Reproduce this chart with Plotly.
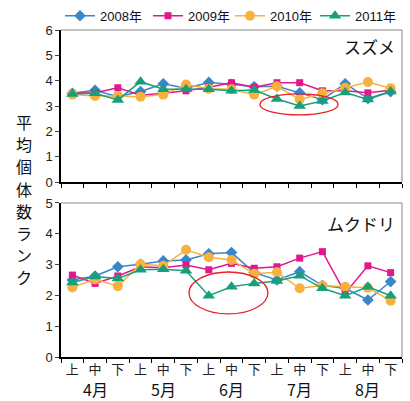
import plotly.graph_objects as go

periods = ["上", "中", "下"] * 5
months = ["4月", "5月", "6月", "7月", "8月"]
years = ["2008年", "2009年", "2010年", "2011年"]
ytitle = "平均個体数ランク"

suzume = {
    "2008年": [3.50, 3.62, 3.37, 3.57, 3.88, 3.70, 3.93, 3.86, 3.76, 3.78, 3.52, 3.25, 3.88, 3.30, 3.57],
    "2009年": [3.50, 3.52, 3.72, 3.43, 3.50, 3.60, 3.74, 3.92, 3.74, 3.92, 3.92, 3.60, 3.60, 3.52, 3.62],
    "2010年": [3.45, 3.40, 3.40, 3.37, 3.45, 3.85, 3.68, 3.66, 3.45, 3.78, 3.26, 3.50, 3.72, 3.95, 3.70],
    "2011年": [3.47, 3.50, 3.24, 3.96, 3.66, 3.66, 3.66, 3.60, 3.63, 3.28, 3.00, 3.20, 3.53, 3.26, 3.57],
}
mukudori = {
    "2008年": [2.50, 2.63, 2.93, 3.01, 3.12, 3.15, 3.35, 3.39, 2.74, 2.50, 2.77, 2.32, 2.23, 1.85, 2.45],
    "2009年": [2.66, 2.39, 2.63, 2.93, 2.90, 2.99, 2.83, 3.04, 2.88, 2.93, 3.21, 3.42, 2.07, 2.96, 2.74],
    "2010年": [2.26, 2.52, 2.30, 3.01, 2.96, 3.48, 3.24, 3.15, 2.70, 2.75, 2.23, 2.32, 2.28, 2.25, 1.83],
    "2011年": [2.42, 2.61, 2.55, 2.83, 2.85, 2.80, 1.99, 2.28, 2.39, 2.47, 2.64, 2.23, 1.99, 2.28, 1.99],
}

colors = {"2008年": "#3a86c8", "2009年": "#e2178b", "2010年": "#f7b13c", "2011年": "#16a07a"}
symbols = {"2008年": "diamond", "2009年": "square", "2010年": "circle", "2011年": "triangle-up"}
msizes = {"2008年": 9, "2009年": 7, "2010年": 10, "2011年": 11}
legend_ids = {"2008年": "legend", "2009年": "legend2", "2010年": "legend3", "2011年": "legend4"}
legend_px = {"2008年": 60, "2009年": 148, "2010年": 230, "2011年": 315}

xs = list(range(len(periods)))
fig = go.Figure()
for y in years:
    fig.add_trace(go.Scatter(x=xs, y=suzume[y], mode="lines+markers", name=y, legend=legend_ids[y],
                             line=dict(color=colors[y], width=1.5),
                             marker=dict(symbol=symbols[y], size=msizes[y], color=colors[y]),
                             xaxis="x", yaxis="y"))
for y in years:
    fig.add_trace(go.Scatter(x=xs, y=mukudori[y], mode="lines+markers", name=y, showlegend=False,
                             line=dict(color=colors[y], width=1.5),
                             marker=dict(symbol=symbols[y], size=msizes[y], color=colors[y]),
                             xaxis="x2", yaxis="y2"))

tickfont = dict(family="Liberation Sans, Arial", size=13, color="#222")
bounds = [i - 0.5 for i in range(len(periods) + 1)]
common_x = dict(range=[-0.5, len(periods) - 0.5], showgrid=False, zeroline=False,
                showline=True, linecolor="black", linewidth=1.5, ticks="",
                tickvals=xs, minor=dict(tickvals=bounds, ticks="outside", ticklen=4, tickcolor="black"))
fig.update_layout(
    width=410, height=401,
    margin=dict(l=61, r=8, t=30, b=44, autoexpand=False),
    plot_bgcolor="white", paper_bgcolor="white",
    font=dict(family="Noto Sans CJK JP, Liberation Sans", color="#111"),
    xaxis=dict(**common_x, domain=[0, 1], anchor="y", showticklabels=False),
    yaxis=dict(range=[0, 6], dtick=1, domain=[0.535, 1], showgrid=False, zeroline=False,
               showline=True, linecolor="black", linewidth=1.5, ticks="outside", ticklen=4,
               tickfont=tickfont),
    xaxis2=dict(**common_x, domain=[0, 1], anchor="y2", ticktext=periods,
                tickfont=dict(family="Noto Sans CJK JP", size=13, color="#222")),
    yaxis2=dict(range=[0, 5], dtick=1, domain=[0, 0.471], showgrid=False, zeroline=False,
                showline=True, linecolor="black", linewidth=1.5, ticks="outside", ticklen=4,
                tickfont=tickfont),
    showlegend=True,
)
for y in years:
    fig.update_layout({legend_ids[y]: dict(
        orientation="h", x=legend_px[y] / 410, xanchor="left", xref="container",
        y=0.998, yanchor="top", yref="container",
        font=dict(family="Liberation Sans, Noto Sans CJK JP", size=13),
        itemwidth=30, bgcolor="rgba(0,0,0,0)")})

shapes = []
for xr, yr in (("x", "y"), ("x2", "y2")):
    shapes.append(dict(type="line", xref=xr + " domain", yref=yr + " domain", x0=0, x1=1, y0=1, y1=1,
                       line=dict(color="#888", width=1)))
    shapes.append(dict(type="line", xref=xr + " domain", yref=yr + " domain", x0=1, x1=1, y0=0, y1=1,
                       line=dict(color="#888", width=1)))
shapes.append(dict(type="circle", xref="x", yref="y", x0=8.25, x1=11.69, y0=2.65, y1=3.48,
                   line=dict(color="#e8202a", width=1.3)))
shapes.append(dict(type="circle", xref="x2", yref="y2", x0=5.13, x1=8.6, y0=1.40, y1=2.76,
                   line=dict(color="#e8202a", width=1.3)))
fig.update_layout(shapes=shapes)

plot_top, plot_h = 30, 327
ann = []
ann.append(dict(text="スズメ", xref="x domain", yref="y domain", x=0.985, y=0.89, xanchor="right", yanchor="middle",
                showarrow=False, font=dict(size=17, family="Noto Sans CJK JP", color="#111")))
ann.append(dict(text="ムクドリ", xref="x2 domain", yref="y2 domain", x=0.985, y=0.87, xanchor="right", yanchor="middle",
                showarrow=False, font=dict(size=17, family="Noto Sans CJK JP", color="#111")))
for i, m in enumerate(months):
    ann.append(dict(text=m, xref="x2", yref="paper", x=3 * i + 1, y=1 - (389 - plot_top) / plot_h,
                    yanchor="middle", showarrow=False,
                    font=dict(size=16, family="Noto Sans CJK JP", color="#111")))
# vertical title, one character per line (top char centre at 122px, 22.2px pitch)
for k, ch in enumerate(ytitle):
    ypx = 122 + 22.2 * k
    ann.append(dict(text=ch, xref="paper", yref="paper", x=(24 - 61) / 341, y=1 - (ypx - plot_top) / plot_h,
                    xanchor="center", yanchor="middle", showarrow=False,
                    font=dict(size=16, family="Noto Sans CJK JP", color="#111")))
fig.update_layout(annotations=ann)

fig.write_html("out.html", post_script="document.body.style.margin='0';",
               config={"displayModeBar": False})
